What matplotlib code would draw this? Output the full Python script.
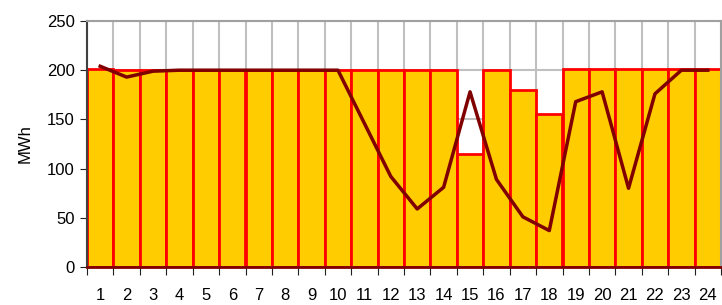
import matplotlib
matplotlib.use("Agg")
import matplotlib.pyplot as plt
import numpy as np

plt.rcParams['font.family'] = ['Liberation Sans', 'DejaVu Sans']

hours = list(range(1, 25))
bar_values = [201, 200, 200, 200, 200, 200, 200, 200, 200, 200, 200, 200,
              200, 200, 115, 200, 180, 155, 201, 201, 201, 201, 201, 201]
line_values = [204, 193, 199, 200, 200, 200, 200, 200, 200, 200, 146, 92,
               59, 81, 178, 89, 51, 37, 168, 178, 80, 176, 200, 200]
yticks = [0, 50, 100, 150, 200, 250]

fig = plt.figure(figsize=(7.22, 3.05), dpi=100)
ax = fig.add_axes([87/722, 1 - 267/305, (721-87)/722, (267-21)/305])

ax.bar(hours, bar_values, width=1.0, color='#FFCC00', edgecolor='#FF0000',
       linewidth=2, zorder=2)
ax.plot(hours, line_values, color='#800000', linewidth=2.5, zorder=3)

ax.set_xlim(0.5, 24.5)
ax.set_ylim(0, 250)
ax.set_yticks(yticks)
ax.set_xticks(np.arange(0.5, 25, 1))
ax.set_xticklabels([])
ax.set_xticks(hours, minor=True)
ax.set_xticklabels([str(h) for h in hours], minor=True)
ax.tick_params(axis='x', which='minor', length=0, pad=15, labelsize=12)
ax.tick_params(axis='x', which='major', length=6, direction='out', color='#202020')
ax.tick_params(axis='y', length=5, direction='out', labelsize=12, pad=4, color='#202020')

ax.grid(True, which='major', color='#c0c0c0', linewidth=1.5, zorder=0)
ax.set_axisbelow(True)
for s in ['top', 'right']:
    ax.spines[s].set_color('#a0a0a0')
    ax.spines[s].set_linewidth(1.5)
ax.spines['left'].set_color('#404040')
ax.spines['left'].set_linewidth(1.5)
ax.spines['bottom'].set_color('#800000')
ax.spines['bottom'].set_linewidth(2)
ax.spines['bottom'].set_zorder(4)

ax.set_ylabel('MWh', fontsize=12, labelpad=10)

fig.savefig('out.png', dpi=100)
